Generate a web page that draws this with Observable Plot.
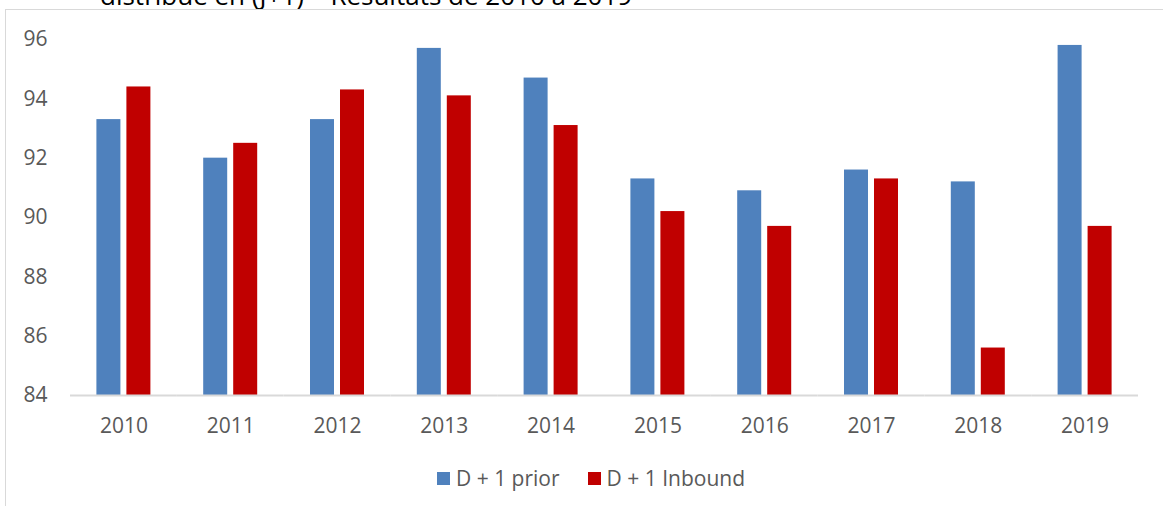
<!DOCTYPE html>
<html>
<head>
<meta charset="utf-8">
<script src="https://cdn.jsdelivr.net/npm/d3@7"></script>
<script src="https://cdn.jsdelivr.net/npm/@observablehq/plot@0.6"></script>
<style>
  html, body { margin: 0; padding: 0; background: #fff; overflow: hidden; }
  body { width: 1163px; height: 506px; position: relative; font-family: "Open Sans", Lato, sans-serif; }
  #title { position: absolute; left: 100px; top: -18px; font-size: 26px; line-height: 1; color: #000; white-space: nowrap; font-family: "Open Sans", sans-serif; }
  #frame { position: absolute; left: 5px; top: 9px; width: 1170px; height: 510px; border: 1px solid #d9d9d9; box-sizing: border-box; }
  #chart { position: absolute; left: 0; top: 0; }
  #legend { position: absolute; top: 465px; left: 0; width: 1182px; height: 26px; line-height: 26px; display: flex; justify-content: center; gap: 28px; font-size: 21px; color: #595959; }
  .item { display: flex; align-items: center; gap: 6px; }
  .sw { width: 13px; height: 13px; display: inline-block; }
</style>
</head>
<body>
<div id="title">distribué en (J+1) – Résultats de 2010 à 2019</div>
<div id="frame"></div>
<div id="chart"></div>
<div id="legend"></div>
<script>
const years = ["2010","2011","2012","2013","2014","2015","2016","2017","2018","2019"];
const seriesNames = ["D + 1 prior", "D + 1 Inbound"];
const priorValues   = [93.3, 92.0, 93.3, 95.7, 94.7, 91.3, 90.9, 91.6, 91.2, 95.8];
const inboundValues = [94.4, 92.5, 94.3, 94.1, 93.1, 90.2, 89.7, 91.3, 85.6, 89.7];
const yTicks = [84, 86, 88, 90, 92, 94, 96];
const colors = ["#4f81bd", "#c00000"];

const data = [];
years.forEach((yr, i) => {
  data.push({year: yr, series: seriesNames[0], value: priorValues[i]});
  data.push({year: yr, series: seriesNames[1], value: inboundValues[i]});
});

const chart = Plot.plot({
  width: 1163,
  height: 450,
  marginLeft: 70,
  marginRight: 25,
  marginTop: 39,
  marginBottom: 55,
  style: {fontFamily: "'Open Sans', Lato, sans-serif", fontSize: "21px", color: "#595959", background: "transparent", overflow: "visible"},
  fx: {domain: years, padding: 0, round: false},
  x: {domain: seriesNames, paddingInner: 0.2, paddingOuter: 0.88, round: false, axis: null},
  y: {domain: [84, 96]},
  color: {domain: seriesNames, range: colors},
  marks: [
    Plot.axisY({ticks: yTicks, tickSize: 0, tickPadding: 23, label: null, fill: "#595959", fontSize: 21}),
    Plot.axisFx({anchor: "bottom", tickSize: 0, tickPadding: 23, label: null, fill: "#595959", fontSize: 21}),
    Plot.barY(data, {fx: "year", x: "series", y1: 84, y2: "value", fill: "series"}),
    Plot.ruleY([84], {stroke: "#d9d9d9", strokeWidth: 2})
  ]
});
document.getElementById("chart").appendChild(chart);

const legend = document.getElementById("legend");
seriesNames.forEach((s, i) => {
  const it = document.createElement("div");
  it.className = "item";
  const sw = document.createElement("span");
  sw.className = "sw";
  sw.style.background = colors[i];
  const t = document.createElement("span");
  t.textContent = s;
  it.appendChild(sw);
  it.appendChild(t);
  legend.appendChild(it);
});
</script>
</body>
</html>
